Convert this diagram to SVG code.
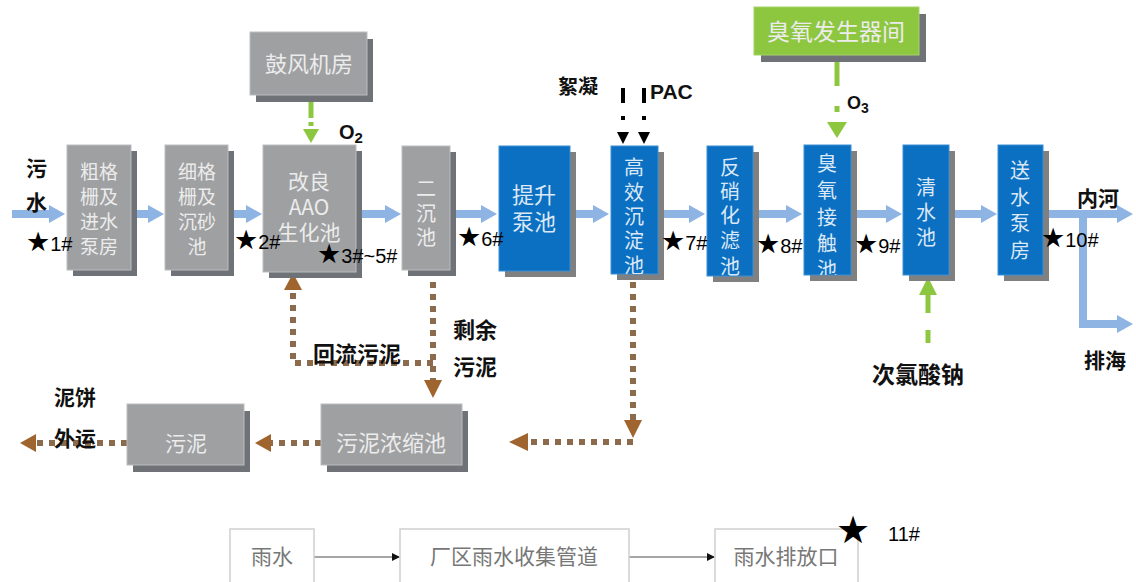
<svg xmlns="http://www.w3.org/2000/svg" width="1136" height="582" viewBox="0 0 1136 582">
<style>
.sh{fill:#6f7377}
.shb{fill:#808080}
.g{fill:#9fa0a2;stroke:#bcbdbf;stroke-width:1}
.b{fill:#0b6fc2;stroke:#3d8fd4;stroke-width:1}
.gr{fill:#8dc63f;stroke:#a6d46a;stroke-width:1}
.w{fill:#ffffff;stroke:#cfcfcf;stroke-width:1.5}
.t{font-family:"Noto Sans CJK SC","Noto Sans",sans-serif;text-anchor:middle}
.tg{fill:#ececec}
.tb{fill:#dbe8f6}
.tw{fill:#777777}
.lb{font-family:"Noto Sans CJK SC","Noto Sans",sans-serif;font-weight:bold;fill:#111}
.st{font-family:"Liberation Sans","DejaVu Sans",sans-serif;fill:#000}
.sk{font-family:"DejaVu Sans",sans-serif}
.ba{fill:#8db4e2}
.dot{fill:none;stroke:#8b6b4c;stroke-width:6;stroke-dasharray:6 6}
.bh{fill:#a0652f}
.gl{stroke:#8dc63f;stroke-width:5;fill:none}
.gh{fill:#8dc63f}
.kl{stroke:#000;stroke-width:4;fill:none}
</style>
<defs>
<clipPath id="c6"><rect x="611" y="146" width="47" height="128"/></clipPath>
<clipPath id="c7"><rect x="707" y="146" width="46" height="130"/></clipPath>
<clipPath id="c8"><rect x="804" y="145" width="47" height="130"/></clipPath>
<marker id="ma" markerWidth="8" markerHeight="8" refX="7" refY="4" orient="auto" markerUnits="userSpaceOnUse">
<path d="M0,0 L8,4 L0,8 Z" fill="#111"/>
</marker>
</defs>

<g id="connectors">
<polygon class="ba" points="12,210 49,210 49,205 65,214 49,223 49,218 12,218"/>
<polygon class="ba" points="131,210 148,210 148,205 164,214 148,223 148,218 131,218"/>
<polygon class="ba" points="228,210 246,210 246,205 262,214 246,223 246,218 228,218"/>
<polygon class="ba" points="356,210 385,210 385,205 401,214 385,223 385,218 356,218"/>
<polygon class="ba" points="450,210 481,210 481,205 497,214 481,223 481,218 450,218"/>
<polygon class="ba" points="570,210 593,210 593,205 609,214 593,223 593,218 570,218"/>
<polygon class="ba" points="658,210 689,210 689,205 705,214 689,223 689,218 658,218"/>
<polygon class="ba" points="753,210 786,210 786,205 802,214 786,223 786,218 753,218"/>
<polygon class="ba" points="851,210 886,210 886,205 902,214 886,223 886,218 851,218"/>
<polygon class="ba" points="949,210 981,210 981,205 997,214 981,223 981,218 949,218"/>
<polygon class="ba" points="1043,210 1117,210 1117,205 1133,214 1117,223 1117,218 1043,218"/>
<polygon class="ba" points="1079,214 1087,214 1087,320 1117,320 1117,315 1133,324 1117,333 1117,328 1079,328"/>

<line class="gl" x1="311" y1="102" x2="311" y2="118"/>
<line class="gl" x1="311" y1="122" x2="311" y2="126"/>
<polygon class="gh" points="303,129 319,129 311,143"/>
<line class="gl" x1="837" y1="62" x2="837" y2="86"/>
<line class="gl" x1="837" y1="106" x2="837" y2="112"/>
<polygon class="gh" points="827,122 847,122 837,138"/>
<line class="gl" x1="928" y1="330" x2="928" y2="343"/>
<line class="gl" x1="928" y1="294" x2="928" y2="313"/>
<polygon class="gh" points="919,295 937,295 928,277"/>

<line class="kl" x1="623" y1="88" x2="623" y2="103"/>
<line class="kl" x1="623" y1="116" x2="623" y2="120"/>
<polygon fill="#000" points="617,132 629,132 623,144"/>
<line class="kl" x1="644" y1="88" x2="644" y2="103"/>
<line class="kl" x1="644" y1="116" x2="644" y2="120"/>
<polygon fill="#000" points="638,132 650,132 644,144"/>

<polyline class="dot" points="433,282 433,381"/>
<polygon class="bh" points="424,380 442,380 433,398"/>
<polyline class="dot" points="433,363 293,363 293,291"/>
<polygon class="bh" points="284,290 302,290 293,273"/>
<polyline class="dot" points="321,443 271,443"/>
<polygon class="bh" points="271,434 271,452 255,443"/>
<polyline class="dot" points="127,443 36,443"/>
<polygon class="bh" points="36,434 36,452 20,443"/>
<polyline class="dot" points="633,282 633,420"/>
<polygon class="bh" points="624,420 642,420 633,438"/>
<polyline class="dot" points="633,442 528,442"/>
<polygon class="bh" points="528,433 528,451 509,442"/>

<line x1="314" y1="557" x2="399" y2="557" stroke="#888" stroke-width="1.3" marker-end="url(#ma)"/>
<line x1="629" y1="557" x2="714" y2="557" stroke="#888" stroke-width="1.3" marker-end="url(#ma)"/>
</g>

<g id="n1">
<rect class="sh" x="73" y="151" width="64" height="125"/>
<rect class="g" x="67" y="145" width="64" height="125"/>
<text class="t tg" font-size="19" x="99" y="179">粗格<tspan x="99" dy="25">栅及</tspan><tspan x="99" dy="25">进水</tspan><tspan x="99" dy="25">泵房</tspan></text>
</g>
<g id="n2">
<rect class="sh" x="171" y="151" width="63" height="125"/>
<rect class="g" x="165" y="145" width="63" height="125"/>
<text class="t tg" font-size="19" x="197" y="179">细格<tspan x="197" dy="25">栅及</tspan><tspan x="197" dy="25">沉砂</tspan><tspan x="197" dy="25">池</tspan></text>
</g>
<g id="n3">
<rect class="sh" x="269" y="151" width="93" height="127"/>
<rect class="g" x="263" y="145" width="93" height="127"/>
<text class="t tg" font-size="21" x="309" y="189">改良<tspan x="309" dy="26">AAO</tspan><tspan x="309" dy="25">生化池</tspan></text>
</g>
<g id="n4">
<rect class="sh" x="408" y="152" width="48" height="124"/>
<rect class="g" x="402" y="146" width="48" height="124"/>
<text class="t tg" font-size="20" x="426" y="196">二<tspan x="426" dy="25">沉</tspan><tspan x="426" dy="24">池</tspan></text>
</g>
<g id="n5">
<rect class="shb" x="505" y="152" width="71" height="125"/>
<rect class="b" x="499" y="146" width="71" height="125"/>
<text class="t tb" font-size="22" x="534" y="203">提升<tspan x="534" dy="27">泵池</tspan></text>
</g>
<g id="n6">
<rect class="shb" x="617" y="152" width="47" height="128"/>
<rect class="b" x="611" y="146" width="47" height="128"/>
<g clip-path="url(#c6)">
<text class="t tb" font-size="20" x="634" y="175">高<tspan x="634" dy="25">效</tspan><tspan x="634" dy="24">沉</tspan><tspan x="634" dy="24">淀</tspan><tspan x="634" dy="25">池</tspan></text>
</g>
</g>
<g id="n7">
<rect class="shb" x="713" y="152" width="46" height="130"/>
<rect class="b" x="707" y="146" width="46" height="130"/>
<g clip-path="url(#c7)">
<text class="t tb" font-size="20" x="730" y="175">反<tspan x="730" dy="24">硝</tspan><tspan x="730" dy="24">化</tspan><tspan x="730" dy="25">滤</tspan><tspan x="730" dy="26">池</tspan></text>
</g>
</g>
<g id="n8">
<rect class="shb" x="810" y="151" width="47" height="130"/>
<rect class="b" x="804" y="145" width="47" height="130"/>
<g clip-path="url(#c8)">
<text class="t tb" font-size="20" x="827" y="171">臭<tspan x="827" dy="27">氧</tspan><tspan x="827" dy="27">接</tspan><tspan x="827" dy="26">触</tspan><tspan x="827" dy="26">池</tspan></text>
</g>
</g>
<g id="n9">
<rect class="shb" x="909" y="151" width="46" height="130"/>
<rect class="b" x="903" y="145" width="46" height="130"/>
<text class="t tb" font-size="20" x="926" y="195">清<tspan x="926" dy="25">水</tspan><tspan x="926" dy="25">池</tspan></text>
</g>
<g id="n10">
<rect class="shb" x="1004" y="151" width="45" height="130"/>
<rect class="b" x="998" y="145" width="45" height="130"/>
<text class="t tb" font-size="20" x="1020" y="178">送<tspan x="1020" dy="27">水</tspan><tspan x="1020" dy="26">泵</tspan><tspan x="1020" dy="27">房</tspan></text>
</g>
<g id="n11">
<rect class="sh" x="256" y="39" width="117" height="63"/>
<rect class="g" x="250" y="32" width="117" height="63"/>
<text class="t tg" font-size="22" x="309" y="72">鼓风机房</text>
</g>
<g id="n12">
<rect class="sh" x="761" y="14" width="165" height="48"/>
<rect class="gr" x="754" y="7" width="165" height="48"/>
<text class="t tg" font-size="23" x="836" y="40">臭氧发生器间</text>
</g>
<g id="n13">
<rect class="sh" x="133" y="411" width="117" height="61"/>
<rect class="g" x="127" y="404" width="117" height="61"/>
<text class="t tg" font-size="21" x="186" y="451">污泥</text>
</g>
<g id="n14">
<rect class="sh" x="327" y="411" width="141" height="61"/>
<rect class="g" x="321" y="404" width="141" height="61"/>
<text class="t tg" font-size="22" x="391" y="451">污泥浓缩池</text>
</g>
<g id="n15">
<rect class="w" x="230" y="529" width="84" height="62"/>
<text class="t tw" font-size="21" x="272" y="564">雨水</text>
</g>
<g id="n16">
<rect class="w" x="400" y="529" width="229" height="62"/>
<text class="t tw" font-size="21" x="514" y="564">厂区雨水收集管道</text>
</g>
<g id="n17">
<rect class="w" x="715" y="529" width="143" height="62"/>
<text class="t tw" font-size="21" x="786" y="564">雨水排放口</text>
</g>

<g id="labels">
<text class="lb" font-size="21" x="26" y="176">污<tspan x="26" dy="34">水</tspan></text>
<text class="lb" font-size="21" x="1077" y="206">内河</text>
<text class="lb" font-size="21" x="1084" y="368">排海</text>
<text class="lb" font-size="20" x="558" y="94">絮凝</text>
<text x="650" y="99" font-family="Liberation Sans, Arial, sans-serif" font-weight="bold" font-size="21" fill="#111">PAC</text>
<text x="339" y="139" font-family="Liberation Sans, Arial, sans-serif" font-weight="bold" font-size="20" fill="#111">O<tspan font-size="15" dy="4">2</tspan></text>
<text x="847" y="109" font-family="Liberation Sans, Arial, sans-serif" font-weight="bold" font-size="18" fill="#111">O<tspan font-size="14" dy="4">3</tspan></text>
<text class="lb" font-size="23" x="872" y="383">次氯酸钠</text>
<text class="lb" font-size="22" x="313" y="362">回流污泥</text>
<text class="lb" font-size="22" x="453" y="338">剩余<tspan x="453" dy="37">污泥</tspan></text>
<text class="lb" font-size="21" x="54" y="405">泥饼<tspan x="54" dy="41">外运</tspan></text>
<text class="st" font-size="20" x="26" y="251"><tspan class="sk" font-size="27">★</tspan>1#</text>
<text class="st" font-size="20" x="234" y="249"><tspan class="sk" font-size="27">★</tspan>2#</text>
<text class="st" font-size="20" x="317" y="263"><tspan class="sk" font-size="27">★</tspan>3#~5#</text>
<text class="st" font-size="20" x="457" y="246"><tspan class="sk" font-size="27">★</tspan>6#</text>
<text class="st" font-size="20" x="661" y="250"><tspan class="sk" font-size="27">★</tspan>7#</text>
<text class="st" font-size="20" x="756" y="253"><tspan class="sk" font-size="27">★</tspan>8#</text>
<text class="st" font-size="20" x="854" y="253"><tspan class="sk" font-size="27">★</tspan>9#</text>
<text class="st" font-size="20" x="1041" y="247"><tspan class="sk" font-size="27">★</tspan>10#</text>
<text class="sk" x="853" y="543" font-size="38" text-anchor="middle" fill="#000">★</text>
<text class="st" x="888" y="541" font-size="20">11#</text>
</g>
</svg>
